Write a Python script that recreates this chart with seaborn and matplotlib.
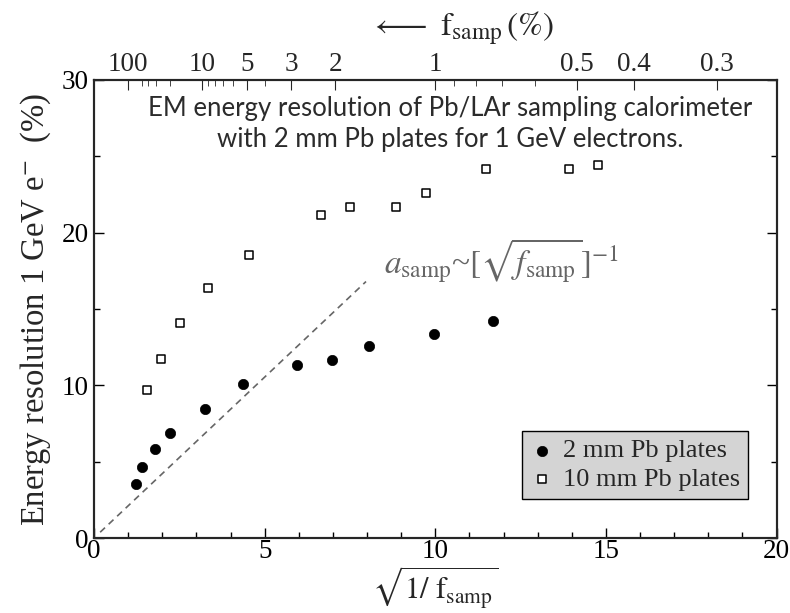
import numpy as np
import pandas as pd
import matplotlib
matplotlib.use("Agg")
import matplotlib.pyplot as plt
import seaborn as sns

# ---- data ----
x_2mm = [1.23, 1.42, 1.80, 2.22, 3.24, 4.38, 5.95, 6.97, 8.06, 9.96, 11.68]
y_2mm = [3.57, 4.66, 5.82, 6.89, 8.47, 10.09, 11.31, 11.64, 12.55, 13.36, 14.21]

x_10mm = [1.56, 1.95, 2.53, 3.34, 4.54, 6.65, 7.50, 8.84, 9.74, 11.48, 13.91, 14.77]
y_10mm = [9.71, 11.70, 14.10, 16.40, 18.53, 21.15, 21.70, 21.70, 22.60, 24.20, 24.20, 24.40]

guide_x = [0.18, 7.97]
guide_y = [0.38, 16.8]

top_major_f = [100, 10, 5, 3, 2, 1, 0.5, 0.4, 0.3]
top_major_labels = ["100", "10", "5", "3", "2", "1", "0.5", "0.4", "0.3"]
top_minor_f = [50, 40, 30, 20, 9, 8, 7, 6, 4, 0.9, 0.8, 0.7, 0.6]

labels = ["2 mm Pb plates", "10 mm Pb plates"]

sns.set_style("ticks")
plt.rcParams["font.family"] = ["Liberation Serif", "DejaVu Serif"]
plt.rcParams["mathtext.fontset"] = "stix"

df = pd.concat([
    pd.DataFrame({"x": x_2mm, "y": y_2mm, "series": labels[0]}),
    pd.DataFrame({"x": x_10mm, "y": y_10mm, "series": labels[1]}),
])

fig = plt.figure(figsize=(7.9, 6.13), dpi=100)
ax = fig.add_axes([0.119, 0.1223, 0.864, 0.7472])

sns.lineplot(x=guide_x, y=guide_y, ax=ax, color="#666666", lw=1.2,
             linestyle=(0, (4, 3)), legend=False)

sns.scatterplot(data=df[df.series == labels[0]], x="x", y="y", ax=ax,
                marker="o", s=55, color="black", edgecolor="black",
                linewidth=0.5, label=labels[0], zorder=3)
sns.scatterplot(data=df[df.series == labels[1]], x="x", y="y", ax=ax,
                marker="s", s=38, facecolor="white", edgecolor="black",
                linewidth=1.1, label=labels[1], zorder=3)

ax.set_xlim(0, 20)
ax.set_ylim(0, 30)
ax.set_xticks([0, 5, 10, 15, 20])
ax.set_xticks(np.arange(0, 21, 1), minor=True)
ax.set_yticks([0, 10, 20, 30])
ax.set_yticks([5, 15, 25], minor=True)
ax.tick_params(which="both", direction="in", right=True, labelsize=19.5,
               width=1.0, colors="black")
ax.tick_params(which="major", length=7)
ax.tick_params(which="minor", length=4)
ax.tick_params(axis="x", which="both", top=False, pad=1)
ax.tick_params(axis="y", which="both", pad=4)
for sp in ax.spines.values():
    sp.set_linewidth(1.5)
    sp.set_color("black")

ax.set_xlabel(r"$\sqrt{1/\ \mathrm{f}_{\mathrm{samp}}}$", fontsize=22, labelpad=0)
ax.set_ylabel(r"Energy resolution 1 GeV e$^{\mathrm{-}}$  (%)", fontsize=23.5, labelpad=6)

# top axis in sampling fraction
top = ax.twiny()
top.set_xlim(0, 20)
top.set_xticks([np.sqrt(100.0 / f) for f in top_major_f])
top.set_xticklabels(top_major_labels)
top.set_xticks([np.sqrt(100.0 / f) for f in top_minor_f], minor=True)
top.tick_params(which="both", direction="in", labelsize=19.5, pad=2)
top.tick_params(which="major", length=7)
top.tick_params(which="minor", length=4)
for sp in top.spines.values():
    sp.set_linewidth(1.5)
top.set_xlabel(r"$\longleftarrow\ \mathrm{f}_{\mathrm{samp}}\,(\%)$", fontsize=24,
               labelpad=12, x=0.54)

leg = ax.legend(loc="lower right", bbox_to_anchor=(0.958, 0.085),
                fontsize=19, frameon=True, fancybox=False,
                handletextpad=0.35, borderpad=0.3, handlelength=0.9,
                labelspacing=0.2, borderaxespad=0)
frame = leg.get_frame()
frame.set_facecolor("#d4d4d4")
frame.set_edgecolor("black")
frame.set_linewidth(1.0)
frame.set_alpha(1)

ax.text(10.44, 27.1,
        "EM energy resolution of Pb/LAr sampling calorimeter\nwith 2 mm Pb plates for 1 GeV electrons.",
        ha="center", va="center", fontsize=18.5, family=["Lato", "DejaVu Sans"],
        fontweight="normal", linespacing=1.3, color="#2b2b2b")

ax.text(8.5, 16.6,
        r"$a_{\mathrm{samp}}$~$[\sqrt{f_{\mathrm{samp}}}]^{-1}$",
        ha="left", va="bottom", fontsize=24, color="#666666")

fig.savefig("out.png", dpi=100)
